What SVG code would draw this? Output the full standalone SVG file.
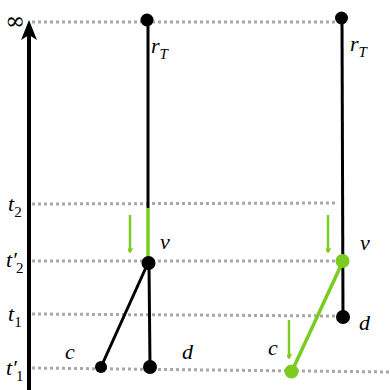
<svg xmlns="http://www.w3.org/2000/svg" width="390" height="390" viewBox="0 0 390 390">
<style>
.dot{stroke:#a8a8a8;stroke-width:3;stroke-dasharray:3 3;fill:none}
.edge{stroke:#000;stroke-width:3;fill:none}
.gedge{stroke:#7acc22;stroke-width:3.5;fill:none}
.garrow{stroke:#7acc22;stroke-width:2.5;fill:none}
.lbl{font-family:"Liberation Serif",serif;font-style:italic;font-size:22px;fill:#000}
.sub{font-size:15px}
.subn{font-style:normal;font-size:15px}
</style>
<defs>
<marker id="ga" viewBox="0 0 10 10" refX="8" refY="5" markerWidth="5" markerHeight="5" orient="auto" markerUnits="userSpaceOnUse">
<path d="M0,0 L9,5 L0,10" fill="none" stroke="#7acc22" stroke-width="2.5"/>
</marker>
</defs>
<g id="gridlines">
<line class="dot" x1="32" y1="22" x2="340" y2="22"/>
<line class="dot" x1="32" y1="204" x2="338" y2="203"/>
<line class="dot" x1="32" y1="261" x2="336" y2="261"/>
<line class="dot" x1="32" y1="314" x2="338" y2="316"/>
<line class="dot" x1="32" y1="368" x2="390" y2="372"/>
</g>
<g id="axis">
<line x1="29" y1="390" x2="29" y2="30" stroke="#000" stroke-width="4"/>
<path d="M29,20 L37,40 L29,35 L21,40 Z" fill="#000"/>
<text x="5" y="29" font-family="DejaVu Serif,serif" font-size="24">∞</text>
</g>
<g id="connectors">
<line class="edge" x1="148" y1="20" x2="148" y2="208"/>
<line class="gedge" x1="148" y1="208" x2="148" y2="263"/>
<line class="edge" x1="148" y1="263" x2="101" y2="367"/>
<line class="edge" x1="149" y1="263" x2="150" y2="367"/>
<line class="edge" x1="342" y1="19" x2="343" y2="317"/>
<line class="gedge" x1="343" y1="261" x2="292" y2="371"/>
<line class="garrow" x1="130" y1="215" x2="130" y2="252" marker-end="url(#ga)"/>
<line class="garrow" x1="328" y1="215" x2="328" y2="252" marker-end="url(#ga)"/>
<line class="garrow" x1="289" y1="320" x2="289" y2="358" marker-end="url(#ga)"/>
</g>
<g id="left-rT"><circle cx="147" cy="20" r="6.5" fill="#000"/><text class="lbl" x="151" y="53">r<tspan class="sub" dy="6">T</tspan></text></g>
<g id="left-v"><circle cx="148.5" cy="263" r="7" fill="#000"/><text class="lbl" x="160" y="249">v</text></g>
<g id="left-c"><circle cx="101" cy="367" r="6" fill="#000"/><text class="lbl" x="65" y="359">c</text></g>
<g id="left-d"><circle cx="150" cy="367" r="7" fill="#000"/><text class="lbl" x="182" y="359">d</text></g>
<g id="right-rT"><circle cx="341.5" cy="18" r="6.5" fill="#000"/><text class="lbl" x="350" y="51">r<tspan class="sub" dy="6">T</tspan></text></g>
<g id="right-v"><circle cx="342.5" cy="261" r="7" fill="#7acc22"/><text class="lbl" x="360" y="250">v</text></g>
<g id="right-d"><circle cx="343" cy="317" r="7" fill="#000"/><text class="lbl" x="359" y="330">d</text></g>
<g id="right-c"><circle cx="291.5" cy="371.5" r="7" fill="#7acc22"/><text class="lbl" x="268" y="355">c</text></g>
<g id="labels">
<text class="lbl" x="8" y="211">t<tspan class="subn" dy="6">2</tspan></text>
<text class="lbl" x="6" y="267">t′<tspan class="subn" dx="-1" dy="6">2</tspan></text>
<text class="lbl" x="8" y="321">t<tspan class="subn" dy="6">1</tspan></text>
<text class="lbl" x="6" y="375">t′<tspan class="subn" dx="-1" dy="6">1</tspan></text>
</g>
</svg>
